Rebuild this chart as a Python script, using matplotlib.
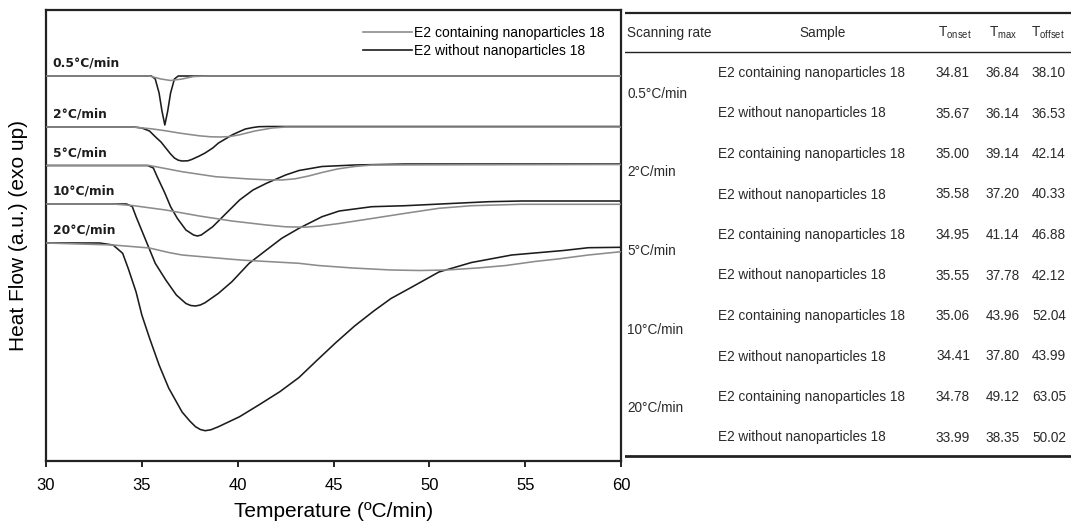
import matplotlib
matplotlib.use("Agg")
import matplotlib.pyplot as plt
from matplotlib.lines import Line2D

plt.rcParams['font.family'] = ['Liberation Sans', 'DejaVu Sans']
plt.rcParams['mathtext.fontset'] = 'custom'
plt.rcParams['mathtext.rm'] = 'Liberation Sans'

# --- DATA ---
rates = ['0.5°C/min', '2°C/min', '5°C/min', '10°C/min', '20°C/min']
samples = ['E2 containing nanoparticles 18', 'E2 without nanoparticles 18']

# table values, two rows (with / without nanoparticles) per scanning rate
t_onset = [34.81, 35.67, 35.00, 35.58, 34.95, 35.55, 35.06, 34.41, 34.78, 33.99]
t_max = [36.84, 36.14, 39.14, 37.20, 41.14, 37.78, 43.96, 37.80, 49.12, 38.35]
t_offset = [38.10, 36.53, 42.14, 40.33, 46.88, 42.12, 52.04, 43.99, 63.05, 50.02]

# DSC curves: temperature (°C) and heat flow (a.u.)
t05_np = [30, 35.4, 36.0, 36.5, 37.1, 37.7, 38.5, 60]
hf05_np = [38.5, 38.5, 38.2, 38.05, 38.2, 38.45, 38.5, 38.5]
t05_free = [30, 35.5, 35.7, 35.9, 36.05, 36.2, 36.35, 36.5, 36.7, 36.9, 60]
hf05_free = [38.5, 38.5, 38.2, 36.8, 35.0, 33.6, 35.0, 36.8, 38.2, 38.5, 38.5]

t2_np = [30, 34.5, 35.5, 36.25, 37.0, 38.0, 38.6, 39.1, 39.6, 40.1, 40.9, 41.8, 42.5, 60]
hf2_np = [33.4, 33.4, 33.22, 33.02, 32.78, 32.52, 32.42, 32.4, 32.45, 32.62, 33.0, 33.3, 33.4, 33.4]
t2_free = [30, 34.6, 35.0, 35.4, 35.7, 36.0, 36.25, 36.5, 36.7, 36.9, 37.1, 37.4, 37.6,
           38.0, 38.3, 38.7, 39.0, 39.4, 39.7, 40.1, 40.4, 40.8, 41.1, 41.6, 60]
hf2_free = [33.4, 33.4, 33.3, 33.0, 32.43, 31.9, 31.3, 30.7, 30.3, 30.08, 30.0, 30.02, 30.15,
            30.5, 30.8, 31.3, 31.8, 32.25, 32.6, 32.95, 33.2, 33.35, 33.43, 33.45, 33.45]

t5_np = [30, 35.4, 37.1, 38.85, 40.6, 41.5, 42.3, 43.0, 43.7, 44.4, 45.2, 46.1, 47.0, 60]
hf5_np = [29.55, 29.55, 28.93, 28.43, 28.2, 28.12, 28.1, 28.22, 28.5, 28.85, 29.2, 29.45, 29.6, 29.65]
t5_free = [30, 35.3, 35.6, 35.8, 36.2, 36.5, 36.85, 37.3, 37.7, 37.9, 38.1, 38.7, 39.4, 40.1,
           40.8, 41.5, 42.5, 43.2, 44.4, 46.1, 48.75, 60]
hf5_free = [29.55, 29.55, 29.3, 28.43, 26.8, 25.43, 24.27, 23.1, 22.6, 22.5, 22.6, 23.43, 24.77, 26.1,
            27.1, 27.77, 28.6, 29.05, 29.45, 29.6, 29.7, 29.7]

t10_np = [30, 33.5, 34.5, 36.25, 38.0, 39.7, 41.5, 42.5, 43.5, 44.3, 45.3, 47.0, 48.75, 50.5,
          52.2, 54.8, 60]
hf10_np = [25.7, 25.7, 25.55, 25.1, 24.5, 24.0, 23.6, 23.42, 23.38, 23.5, 23.75, 24.25, 24.77, 25.27,
           25.53, 25.67, 25.67]
t10_free = [30, 34.2, 34.5, 34.7, 35.2, 35.7, 36.25, 36.8, 37.3, 37.55, 37.8, 38.05, 38.3, 39.0, 39.7,
            40.6, 41.5, 42.3, 43.2, 44.4, 45.3, 47.0, 48.75, 51.35, 53.1, 54.8, 60]
hf10_free = [25.7, 25.7, 25.45, 24.43, 22.1, 19.77, 18.1, 16.6, 15.75, 15.55, 15.5, 15.6, 15.83, 16.77, 17.93,
             19.77, 21.1, 22.27, 23.27, 24.43, 25.0, 25.43, 25.53, 25.77, 25.93, 26.0, 26.0]

t20_np = [30, 33.5, 35.4, 36.4, 37.1, 39.7, 40.3, 43.2, 44.2, 46.0, 48.0, 49.5, 50.9, 52.5,
          54.0, 55.5, 56.7, 58.3, 60]
hf20_np = [21.8, 21.6, 21.3, 20.85, 20.6, 20.17, 20.08, 19.77, 19.55, 19.3, 19.1, 19.05, 19.1, 19.3,
           19.55, 19.95, 20.2, 20.6, 20.93]
t20_free = [30, 32.8, 33.5, 34.0, 34.3, 34.7, 35.0, 35.4, 35.9, 36.4, 37.1, 37.5, 37.8, 38.05, 38.3,
            38.6, 39.0, 40.1, 41.1, 42.2, 43.2, 44.1, 45.1, 46.1, 47.1, 48.0, 49.0, 50.5, 52.2, 54.3,
            57.0, 58.3, 60]
hf20_free = [21.8, 21.8, 21.6, 20.77, 19.2, 16.9, 14.6, 12.3, 9.6, 7.3, 4.9, 4.0, 3.43, 3.15, 3.03,
             3.12, 3.43, 4.43, 5.6, 6.93, 8.35, 10.0, 11.8, 13.5, 15.0, 16.25, 17.3, 18.9, 19.85, 20.6,
             21.05, 21.33, 21.37]

curves_np = [(t05_np, hf05_np), (t2_np, hf2_np), (t5_np, hf5_np), (t10_np, hf10_np), (t20_np, hf20_np)]
curves_free = [(t05_free, hf05_free), (t2_free, hf2_free), (t5_free, hf5_free),
               (t10_free, hf10_free), (t20_free, hf20_free)]

GRAY = '#8c8c8c'
BLACK = '#1c1c1c'
TXT = '#2a2a2a'

# --- FIGURE ---
W, H = 1071, 523
fig = plt.figure(figsize=(W / 100, H / 100), dpi=100)
ax = fig.add_axes([46 / W, 1 - 461 / H, (621 - 46) / W, (461 - 10) / H])

for t, hf in curves_free:
    ax.plot(t, hf, color=BLACK, lw=1.15, zorder=2, solid_joinstyle='round')
for t, hf in curves_np:
    ax.plot(t, hf, color=GRAY, lw=1.15, zorder=3, solid_joinstyle='round')

for rate, (t, hf) in zip(rates, curves_np):
    ax.text(30.35, hf[0] + 1.3, rate, fontsize=8.8, fontweight='bold', color=BLACK,
            va='center', family='DejaVu Sans')

handles = [Line2D([], [], color=GRAY, lw=1.2), Line2D([], [], color=BLACK, lw=1.2)]
ax.legend(handles, samples, loc='upper right', frameon=False, fontsize=10,
          handlelength=3.5, handletextpad=0.2, labelspacing=0.3, borderaxespad=0.75)

ax.set_xlim(30, 60)
ax.set_ylim(0, 45.1)
ax.set_yticks([])
ax.set_xticks(range(30, 61, 5))
ax.tick_params(axis='x', direction='out', length=4.5, width=1.2, labelsize=12, pad=8)
for sp in ax.spines.values():
    sp.set_linewidth(1.6)
    sp.set_color('#222222')
ax.set_xlabel('Temperature (ºC/min)', fontsize=15, labelpad=6)
ax.set_ylabel('Heat Flow (a.u.) (exo up)', fontsize=15)
ax.yaxis.set_label_coords(-0.032, 0.5)

# --- TABLE ---
tab = fig.add_axes([625 / W, 0, (W - 625) / W, 1])
tab.set_xlim(625, W)
tab.set_ylim(H, 0)
tab.axis('off')
tab.axhline(12.7, color='#222222', lw=1.6)
tab.axhline(52, color='#222222', lw=1.0)
tab.axhline(456, color='#222222', lw=2.0)

fs = 9.8
tab.text(627, 33, 'Scanning rate', fontsize=fs, color=TXT, va='center', ha='left')
tab.text(823, 33, 'Sample', fontsize=fs, color=TXT, va='center', ha='center')
for x, lab in zip([955, 1003, 1048], ['onset', 'max', 'offset']):
    tab.text(x, 33, 'T$_{\\mathrm{%s}}$' % lab, fontsize=fs, color=TXT, va='center', ha='center')

for i in range(len(t_onset)):
    y = 73 + i * 40.5
    tab.text(718, y, samples[i % 2], fontsize=fs, color=TXT, va='center', ha='left')
    for x, v in zip([953, 1003, 1049], [t_onset[i], t_max[i], t_offset[i]]):
        tab.text(x, y, f'{v:.2f}', fontsize=fs, color=TXT, va='center', ha='center')

for j, rate in enumerate(rates):
    tab.text(627, 94 + j * 78.5, rate, fontsize=fs, color=TXT, va='center', ha='left')

fig.savefig('out.png', dpi=100)
